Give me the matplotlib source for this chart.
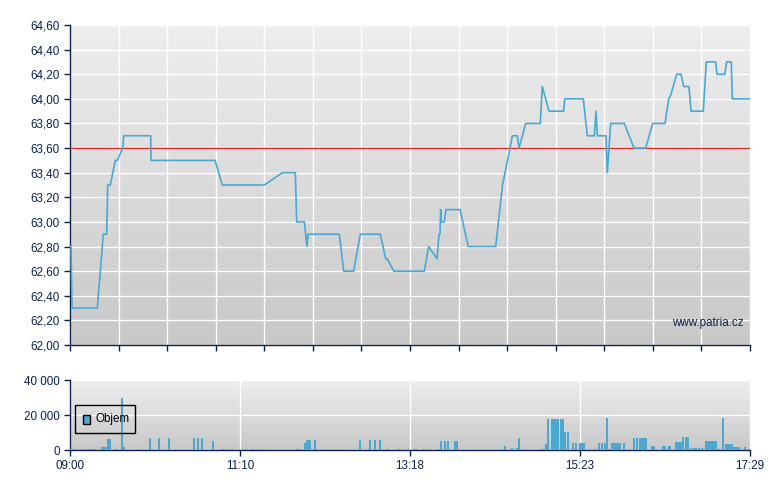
import numpy as np
import matplotlib
matplotlib.use("Agg")
import matplotlib.pyplot as plt
from matplotlib.colors import LinearSegmentedColormap
from matplotlib.patches import Rectangle

plt.rcParams['font.family'] = ['Liberation Sans', 'DejaVu Sans']

# ---- data (x = trading-session slot, 0..680 across the day) ----
price_slot = [0, 1, 2, 27.3, 33.3, 36.7, 37.7, 40.3, 45.3, 47.3, 52.7, 53.7, 80.7, 81,
              145, 152.3, 194.3, 212.3, 225.3, 226.7, 234.3, 237, 238, 269.3, 273.7,
              283.7, 290.3, 310.3, 315.7, 317.3, 323.7, 354.3, 358.7, 367, 369, 370,
              370.7, 371.3, 374.3, 376, 390, 398.3, 425.7, 432.5, 440, 442.3, 447.3,
              449, 455.7, 470.3, 472.3, 479, 493.7, 494.7, 513.3, 517.3, 524.3, 526,
              527.3, 536, 537.3, 540.7, 554.3, 564, 575.7, 582.7, 595, 598.7, 600.7,
              606.7, 611, 613.7, 619, 621, 633.3, 636.3, 645.7, 647, 654.7, 656.7,
              661.3, 662.3, 680]
price_val = [62.80, 62.80, 62.30, 62.30, 62.90, 62.90, 63.30, 63.30, 63.50, 63.50, 63.60,
             63.70, 63.70, 63.50, 63.50, 63.30, 63.30, 63.40, 63.40, 63.00, 63.00, 62.80,
             62.90, 62.90, 62.60, 62.60, 62.90, 62.90, 62.70, 62.70, 62.60, 62.60, 62.80,
             62.70, 62.90, 62.90, 63.10, 63.00, 63.00, 63.10, 63.10, 62.80, 62.80, 63.30,
             63.60, 63.70, 63.70, 63.60, 63.80, 63.80, 64.10, 63.90, 63.90, 64.00, 64.00,
             63.70, 63.70, 63.90, 63.70, 63.70, 63.40, 63.80, 63.80, 63.60, 63.60, 63.80,
             63.80, 64.00, 64.03, 64.20, 64.20, 64.10, 64.10, 63.90, 63.90, 64.30, 64.30,
             64.20, 64.20, 64.30, 64.30, 64.00, 64.00]
reference_price = 63.60

vol_slot = [1, 3, 5, 9, 11, 13, 16, 19, 21, 23, 25, 32, 34, 36, 38, 40, 45, 47, 51.7, 54,
            68, 80.3, 89, 99, 124, 128, 132, 143.3, 152, 153.7, 157, 162, 174, 181, 183,
            185.5, 191, 193.5, 227, 229, 231, 235.3, 237, 239, 240.2, 245, 252.7, 263,
            268.5, 289.7, 300, 305, 310, 316, 318, 327.5, 329, 344, 346, 348, 354, 358,
            369, 371, 375, 378, 385, 387, 431.7, 435, 442, 446.7, 448.5, 455.3, 470,
            472, 473.5, 476, 478, 482, 484, 486, 488, 491, 493, 495, 498, 502.7, 505.5,
            510, 512, 513.5, 525, 528.5, 532, 534.5, 537, 539.3, 541.5, 543.5, 545.5,
            547.5, 549.5, 554, 564, 567, 570, 572, 574, 575.5, 582, 584, 593.3, 595.3,
            598.7, 600.3, 606, 608, 610, 611.5, 613, 616, 618, 621, 623.5, 626, 628.5,
            632, 636, 638, 640, 642, 644, 645.5, 648.5, 653, 656, 658, 659.5, 661.5,
            663.5, 665.5, 667.5, 669, 675, 679]
vol_val = [800, 800, 800, 800, 800, 800, 800, 800, 800, 800, 800, 2000, 2000, 2000, 6300,
           6300, 800, 800, 29700, 1500, 800, 7000, 7000, 7000, 7000, 7000, 7000, 5100,
           800, 800, 800, 800, 800, 800, 800, 800, 800, 800, 800, 800, 800, 4000, 5700,
           5700, 5700, 5700, 800, 800, 800, 5500, 5500, 5500, 5500, 800, 800, 800, 800,
           800, 800, 800, 800, 800, 800, 5100, 5100, 5100, 5100, 5100, 500, 2300, 1300,
           1300, 6900, 800, 800, 500, 500, 3400, 17700, 17700, 17700, 17700, 17700,
           17700, 17700, 10100, 10100, 4200, 4200, 4200, 4200, 4200, 800, 4200, 4200,
           4200, 18300, 800, 4200, 4200, 4200, 4200, 4200, 4200, 6900, 6900, 6900, 6900,
           6900, 6900, 2300, 2300, 2300, 2300, 2300, 2300, 4600, 4600, 4600, 4600, 7200,
           7200, 7200, 1000, 1000, 1000, 1000, 1000, 5100, 5100, 5100, 5100, 5100, 5100,
           500, 18300, 3400, 3400, 3400, 3700, 1700, 1700, 1700, 1700, 1700, 500]

time_tick_labels = ["09:00", "11:10", "13:18", "15:23", "17:29"]
price_ticks = [62.00, 62.20, 62.40, 62.60, 62.80, 63.00, 63.20, 63.40, 63.60, 63.80,
               64.00, 64.20, 64.40, 64.60]
vol_ticks = [0, 20000, 40000]
vol_tick_labels = ["0", "20 000", "40 000"]

# ---- styling ----
NAVY = "#0b2150"
BLUE = "#4ba8d1"
SESSION = 680

fig = plt.figure(figsize=(7.8, 4.9), dpi=100)
fig.patch.set_facecolor("white")

ax = fig.add_axes([70/780, (490-345)/490, 680/780, 320/490])
axv = fig.add_axes([70/780, (490-450)/490, 680/780, 70/490])

grad_cmap = LinearSegmentedColormap.from_list("g", ["#c8c8c8", "#eeeeee"])

def style(a):
    a.imshow(np.linspace(0, 1, 256).reshape(-1, 1), extent=[0, 1, 0, 1],
             transform=a.transAxes, aspect="auto", cmap=grad_cmap, origin="lower",
             zorder=-5, interpolation="bilinear")
    for s in ["top", "right"]:
        a.spines[s].set_visible(False)
    for s in ["left", "bottom"]:
        a.spines[s].set_color(NAVY)
        a.spines[s].set_linewidth(1.0)
    a.tick_params(colors=NAVY, labelcolor=NAVY, direction="out", length=4, width=1,
                  labelsize=8.4)
    a.set_axisbelow(True)

style(ax)
style(axv)

# price panel
ax.plot(price_slot, price_val, color=BLUE, lw=1.2, zorder=3)
ax.axhline(reference_price, color="#e02424", lw=0.9, zorder=2)
ax.set_xlim(0, SESSION)
ax.set_ylim(62.0, 64.6)
ax.set_yticks(price_ticks)
ax.set_yticklabels([f"{v:.2f}".replace(".", ",") for v in price_ticks])
ax.set_xticks(np.linspace(0, SESSION, 15))
ax.set_xticklabels([])
ax.grid(True, color="white", lw=1.0)
ax.text(0.99, 0.069, "www.patria.cz", transform=ax.transAxes, ha="right", va="center",
        color=NAVY, fontsize=8.4)

# volume panel
axv.bar(vol_slot, vol_val, width=2.0, color=BLUE, zorder=3, linewidth=0)
axv.set_xlim(0, SESSION)
axv.set_ylim(0, 40000)
axv.set_yticks(vol_ticks)
axv.set_yticklabels(vol_tick_labels)
axv.set_xticks(np.linspace(0, SESSION, 5))
axv.set_xticklabels(time_tick_labels)
axv.grid(True, color="white", lw=1.0)

# legend box
axv.add_patch(Rectangle((5/680, 17/70), 60/680, 27.7/70, transform=axv.transAxes,
                        fill=False, edgecolor="black", lw=1.0, zorder=5))
axv.add_patch(Rectangle((13/680, 26.5/70), 7/680, 9/70, transform=axv.transAxes,
                        facecolor=BLUE, edgecolor="black", lw=1.0, zorder=6))
axv.text(25/680, 31/70, "Objem", transform=axv.transAxes, ha="left", va="center",
         color="black", fontsize=8.4, zorder=6)

fig.savefig("out.png", dpi=100, facecolor="white")
